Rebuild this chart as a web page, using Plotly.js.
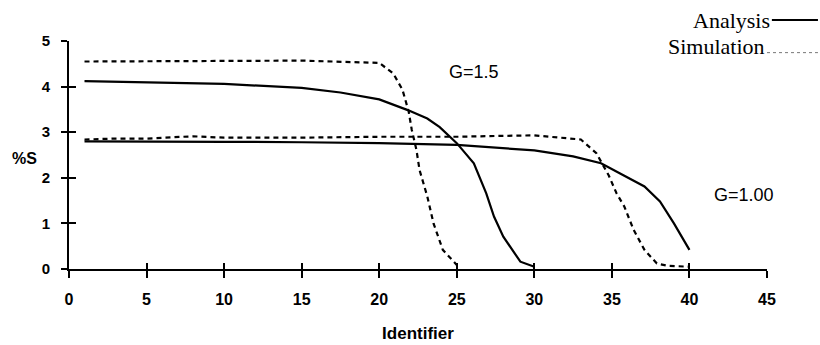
<!DOCTYPE html>
<html><head><meta charset="utf-8">
<script src="https://cdn.plot.ly/plotly-3.0.1.min.js"></script>
<style>html,body{margin:0;padding:0;background:#fff;}#chart{width:820px;height:345px;}</style>
</head><body><div id="chart"></div>
<script>
// G=1.5 analysis (solid)
const a15_x = [1, 5, 10, 15, 17.5, 20, 21.8, 23.1, 23.9, 25, 26.1, 26.9, 27.4, 28, 29.1, 30];
const a15_y = [4.12, 4.10, 4.06, 3.97, 3.87, 3.72, 3.49, 3.30, 3.11, 2.76, 2.32, 1.66, 1.15, 0.71, 0.16, 0.05];
// G=1.5 simulation (dashed)
const s15_x = [1, 5, 10, 15, 20, 20.9, 21.5, 21.9, 22.1, 22.4, 22.6, 23.1, 23.5, 24.1, 25];
const s15_y = [4.55, 4.56, 4.57, 4.57, 4.52, 4.29, 3.93, 3.45, 3.05, 2.61, 2.17, 1.59, 1.0, 0.42, 0.09];
// G=1.00 analysis (solid)
const a10_x = [1, 5, 10, 15, 20, 25, 30, 32.5, 34.3, 35.5, 37.1, 38.1, 39.0, 40];
const a10_y = [2.80, 2.80, 2.79, 2.78, 2.76, 2.72, 2.60, 2.47, 2.32, 2.10, 1.81, 1.48, 1.0, 0.42];
// G=1.00 simulation (dashed)
const s10_x = [1, 3, 5, 8, 10, 15, 20, 25, 28, 30, 33, 34, 34.8, 35.3, 35.8, 36.4, 37.1, 37.9, 38.6, 40];
const s10_y = [2.84, 2.86, 2.86, 2.91, 2.88, 2.88, 2.90, 2.90, 2.92, 2.93, 2.84, 2.54, 2.05, 1.66, 1.37, 0.86, 0.42, 0.12, 0.07, 0.05];

const xTicks = [0, 5, 10, 15, 20, 25, 30, 35, 40, 45];
const yTicks = [0, 1, 2, 3, 4, 5];
const seriesNames = ['Analysis', 'Simulation'];
const curveLabels = ['G=1.5', 'G=1.00'];

const solid = {color: '#000', width: 2.2};
const dashed = {color: '#000', width: 2.2, dash: '5px,4px'};
const traces = [
  {x: a15_x, y: a15_y, mode: 'lines', line: solid, name: seriesNames[0]},
  {x: s15_x, y: s15_y, mode: 'lines', line: dashed, name: seriesNames[1]},
  {x: a10_x, y: a10_y, mode: 'lines', line: solid, name: seriesNames[0]},
  {x: s10_x, y: s10_y, mode: 'lines', line: dashed, name: seriesNames[1]},
  {x: [0], y: [0], xaxis: 'x2', yaxis: 'y2', mode: 'markers', marker: {opacity: 0}, hoverinfo: 'skip'}
];

const sans = 'Liberation Sans, Arial, sans-serif';
const layout = {
  width: 820, height: 345,
  margin: {l: 69, r: 53, t: 41, b: 76},
  paper_bgcolor: '#fff', plot_bgcolor: '#fff',
  showlegend: false,
  xaxis: {range: [0, 45], tickvals: xTicks, ticktext: xTicks.map(String), showgrid: false, zeroline: false,
    showline: true, linecolor: '#000', linewidth: 2, ticks: 'outside', ticklen: 7, tickwidth: 2, tickcolor: '#000',
    tickfont: {family: sans, size: 16, color: '#000', weight: 'bold'}, ticklabelstandoff: 8,
    title: {text: 'Identifier', font: {family: sans, size: 17, color: '#000', weight: 'bold'}, standoff: 20}},
  yaxis: {range: [0, 5], tickvals: yTicks, ticktext: yTicks.map(String), showgrid: false, zeroline: false,
    showline: true, linecolor: '#000', linewidth: 2, ticks: 'outside', ticklen: 6, tickwidth: 2, tickcolor: '#000',
    tickfont: {family: sans, size: 15, color: '#000', weight: 'bold'}, ticklabelstandoff: 8},
  xaxis2: {overlaying: 'x', range: [0, 45], tickvals: xTicks, showticklabels: false, ticks: 'inside', ticklen: 6, tickwidth: 2, tickcolor: '#000', showgrid: false, zeroline: false, side: 'bottom'},
  yaxis2: {overlaying: 'y', range: [0, 5], tickvals: yTicks, showticklabels: false, ticks: 'inside', ticklen: 7, tickwidth: 2, tickcolor: '#000', showgrid: false, zeroline: false, side: 'left'},
  annotations: [
    {text: '%S', xref: 'paper', yref: 'paper', x: -0.064, y: 0.485, xanchor: 'center', yanchor: 'middle', showarrow: false,
      font: {family: sans, size: 16, color: '#000', weight: 'bold'}},
    {text: curveLabels[0], xref: 'x', yref: 'y', x: 26.1, y: 4.31, showarrow: false,
      font: {family: sans, size: 18, color: '#000'}},
    {text: curveLabels[1], xref: 'x', yref: 'y', x: 43.5, y: 1.62, showarrow: false,
      font: {family: sans, size: 18, color: '#000'}},
    {text: seriesNames[0], xref: 'paper', yref: 'paper', x: 1.007, y: 1.09, xanchor: 'right', yanchor: 'middle', showarrow: false,
      font: {family: 'Liberation Serif, Times New Roman, serif', size: 22, color: '#000'}},
    {text: seriesNames[1], xref: 'paper', yref: 'paper', x: 1.0, y: 0.978, xanchor: 'right', yanchor: 'middle', showarrow: false,
      font: {family: 'Liberation Serif, Times New Roman, serif', size: 22, color: '#000'}}
  ],
  shapes: [
    {type: 'line', xref: 'paper', yref: 'paper', x0: 1.007, x1: 1.073, y0: 1.092, y1: 1.092, line: {color: '#000', width: 2}},
    {type: 'line', xref: 'paper', yref: 'paper', x0: 1.0, x1: 1.073, y0: 0.949, y1: 0.949, line: {color: '#777', width: 1, dash: 'dot'}}
  ]
};
Plotly.newPlot('chart', traces, layout, {displayModeBar: false, staticPlot: true});
</script>
</body></html>
